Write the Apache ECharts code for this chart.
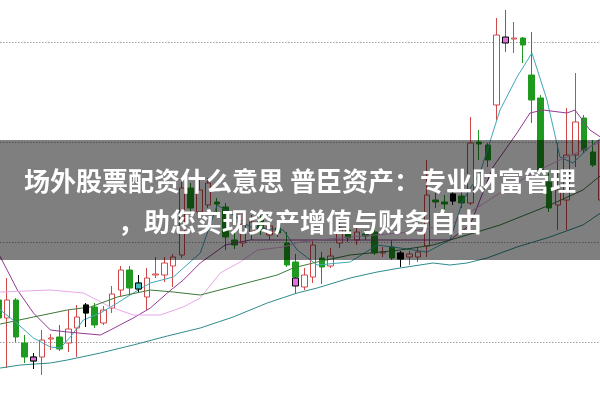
<!DOCTYPE html>
<html><head><meta charset="utf-8">
<script src="https://cdn.jsdelivr.net/npm/echarts@6/dist/echarts.min.js"></script>
<style>html,body{margin:0;padding:0;background:#fff;overflow:hidden;width:600px;height:400px;position:relative}#c{position:absolute;left:-6px;top:-58px;width:612px;height:500px}</style>
</head><body><div id="c"></div>
<script>
const categories = ['1','2','3','4','5','6','7','8','9','10','11','12','13','14','15','16','17','18','19','20','21','22','23','24','25','26','27','28','29','30','31','32','33','34','35','36','37','38','39','40','41','42','43','44','45','46','47','48','49','50','51','52','53','54','55','56','57','58','59','60','61','62','63','64','65','66','67','68','69','70'];

// [open, close, low, high]
const candles = [
[10.42,10.24,10.20,10.47],[10.24,10.42,9.74,10.64],[10.42,10.05,10.00,10.44],[9.99,9.85,9.79,10.07],
[9.85,9.81,9.73,9.89],[9.85,10.02,9.67,10.12],[10.03,10.04,9.92,10.08],[10.05,9.93,9.91,10.17],
[9.99,10.13,9.90,10.32],[10.14,10.25,9.85,10.37],[10.37,10.29,10.15,10.39],[10.35,10.17,10.14,10.39],
[10.19,10.32,10.17,10.36],[10.34,10.48,10.29,10.56],[10.52,10.72,10.46,10.76],[10.72,10.54,10.47,10.76],
[10.59,10.53,10.50,10.67],[10.45,10.64,10.32,10.74],[10.67,10.68,10.64,10.85],[10.67,10.79,10.60,10.85],
[10.76,10.85,10.55,10.88],[10.87,11.54,10.84,11.60],[11.54,11.34,11.29,11.59],[11.30,11.52,11.27,11.62],
[11.37,11.59,11.34,11.64],[11.40,11.38,11.30,11.44],[11.35,11.05,10.92,11.39],[11.02,10.97,10.93,11.09],
[10.99,11.18,10.95,11.29],[11.10,11.20,11.02,11.27],[11.22,11.12,11.07,11.28],[11.07,11.16,11.02,11.22],
[11.14,11.09,11.05,11.19],[10.99,10.77,10.75,11.10],[10.80,10.65,10.49,10.88],[10.55,10.67,10.52,10.74],
[10.65,10.97,10.59,11.02],[10.84,10.75,10.58,10.90],[10.76,10.86,10.74,10.94],[10.99,11.14,10.94,11.20],
[11.12,11.04,11.00,11.17],[11.02,11.10,10.97,11.14],[11.08,11.06,11.02,11.12],[11.10,10.89,10.87,11.14],
[10.89,10.90,10.85,10.95],[10.95,10.84,10.82,11.02],[10.89,10.83,10.75,10.91],[10.85,10.88,10.77,10.91],
[10.85,10.90,10.80,10.95],[10.96,11.47,10.85,11.82],[11.42,11.40,11.34,11.49],[11.40,11.38,11.32,11.47],
[11.48,11.41,11.37,11.52],[11.46,11.39,11.34,11.52],[11.39,11.99,11.37,12.25],[12.00,11.98,11.82,12.12],
[11.97,11.82,11.75,11.99],[12.37,13.07,12.22,13.24],[13.02,13.01,12.90,13.32],[13.03,13.04,12.89,13.20],
[13.04,12.97,12.79,13.05],[12.67,12.42,12.19,13.10],[12.44,11.72,11.69,12.47],[11.60,11.34,11.30,11.72],
[11.37,11.52,11.12,11.99],[11.42,11.87,11.12,12.34],[11.87,12.20,11.75,12.69],[12.24,11.92,11.89,12.27],
[11.90,11.77,11.75,12.02],[11.42,12.02,11.39,12.60]
];

const markerIdx = [4,10,16,34,46,52,58];
const markerVals = [[9.85,9.81,9.73,9.89],[10.37,10.29,10.15,10.39],[10.59,10.53,10.50,10.67],[10.64,10.56,10.56,10.64],[10.89,10.83,10.75,10.91],[11.48,11.41,11.37,11.52],[13.05,12.99,12.99,13.05]];
const markerFill = ['#e070e0','#000000','#40c0c0','#e070e0','#000000','#000000','#e070e0'];

// moving averages: [index, price]
const ma5 = [[-0.34,10.42],[0.23,10.32],[1.95,10.20],[4.01,10.04],[5.95,9.95],[7.09,9.94],[8.23,10.05],[9.72,10.22],[11.66,10.29],[13.61,10.39],[15.43,10.49],[17.38,10.59],[20.01,10.65],[23.09,10.89],[25.03,11.37],[26.86,11.27],[28.81,11.15],[32.58,11.12],[34.18,10.92],[36.46,10.77],[40.23,10.80],[43.32,10.97],[45.95,10.94],[49.03,10.90],[51.66,11.02],[53.15,11.42],[55.09,11.69],[57.38,12.32],[59.32,12.65],[61.03,12.89],[62.75,12.42],[64.23,11.85],[65.72,11.79],[67.66,11.95],[69.38,12.07]];
const ma10 = [[-0.34,10.92],[0.23,10.85],[2.18,10.52],[4.01,10.29],[5.95,10.12],[7.89,10.10],[11.66,10.07],[12.81,10.12],[15.43,10.24],[17.38,10.34],[19.32,10.49],[21.15,10.62],[23.09,10.79],[25.95,10.97],[28.81,11.02],[34.52,11.02],[40.23,11.02],[45.95,11.02],[51.66,11.02],[53.95,11.17],[56.58,11.75],[59.32,12.09],[60.81,12.29],[62.29,12.32],[65.03,12.29],[65.95,12.32],[67.66,12.12],[69.38,12.02]];
const ma20 = [[-0.34,10.49],[0.23,10.50],[5.95,10.52],[9.72,10.49],[12.81,10.35],[15.43,10.27],[18.52,10.27],[21.15,10.35],[23.09,10.44],[25.38,10.69],[27.66,10.80],[29.61,10.92],[32.58,10.95],[34.52,11.00],[40.23,11.05],[45.95,11.09],[51.66,11.17],[57.38,11.49],[61.15,11.69],[64.23,11.82],[66.86,11.92],[69.38,12.02]];
const ma60 = [[-0.34,10.17],[0.23,10.18],[4.01,10.25],[7.89,10.32],[10.52,10.35],[13.61,10.45],[17.38,10.52],[20.01,10.50],[23.09,10.47],[26.18,10.54],[28.81,10.60],[31.89,10.67],[33.72,10.74],[36.46,10.80],[40.23,10.87],[45.95,10.92],[49.72,10.97],[53.61,11.07],[57.38,11.17],[63.09,11.37],[66.86,11.52],[69.38,11.70]];
const ma120 = [[-0.34,9.73],[0.23,9.74],[2.52,9.77],[5.95,9.79],[7.89,9.82],[11.66,9.89],[15.43,9.97],[19.32,10.06],[23.09,10.14],[26.86,10.25],[30.75,10.39],[34.18,10.49],[36.46,10.54],[40.23,10.64],[43.32,10.70],[45.95,10.74],[49.72,10.79],[51.66,10.77],[53.61,10.79],[55.89,10.84],[59.32,10.95],[63.09,11.05],[66.86,11.17],[69.38,11.32]];

const title1 = '场外股票配资什么意思 普臣资产：专业财富管理';
const title2 = '，助您实现资产增值与财务自由';

const markerData = categories.map(function(){ return '-'; });
markerIdx.forEach(function(k, i){
  markerData[k] = {value: markerVals[i], itemStyle: {color: markerFill[i], color0: markerFill[i], borderColor: '#000', borderColor0: '#000'}};
});

function lineSeries(name, data, color){
  return {name: name, type: 'line', xAxisIndex: 1, data: data, symbol: 'none', smooth: false, z: 4,
    lineStyle: {color: color, width: 1}, silent: true};
}

const chart = echarts.init(document.getElementById('c'), null, {renderer: 'canvas'});
chart.setOption({
  animation: false,
  backgroundColor: '#fff',
  grid: {left: 0, right: 0, top: 0, bottom: 0},
  xAxis: [
    {type: 'category', data: categories, boundaryGap: true, axisLine: {show: false}, axisTick: {show: false}, axisLabel: {show: false}, splitLine: {show: false}},
    {type: 'value', min: -0.5, max: 69.5, show: false}
  ],
  yAxis: {type: 'value', min: 9, max: 14, interval: 1, axisLine: {show: false}, axisTick: {show: false}, axisLabel: {show: false},
    splitLine: {show: true, lineStyle: {color: '#a0a0a0', width: 1, type: [1.5, 1.5]}}},
  series: [
    {type: 'candlestick', data: candles, barWidth: 6, z: 2,
      itemStyle: {color: '#ffffff', color0: '#1e9a1e', borderColor: '#d04848', borderColor0: '#1e9a1e', borderWidth: 1}},
    lineSeries('MA5', ma5, '#3fa8b8'),
    lineSeries('MA10', ma10, '#933a93'),
    lineSeries('MA20', ma20, '#e8a8e8'),
    lineSeries('MA60', ma60, '#3a7a3a'),
    lineSeries('MA120', ma120, '#2f8c8c'),
    {type: 'candlestick', data: markerData, barWidth: 6, z: 5,
      itemStyle: {color: '#e070e0', color0: '#e070e0', borderColor: '#000', borderColor0: '#000', borderWidth: 1}}
  ],
  graphic: [
    {type: 'rect', left: 0, top: 198, z: 100, shape: {width: 612, height: 120}, style: {fill: 'rgba(0,0,0,0.5)'}},
    {type: 'text', x: 306, y: 239, z: 101, style: {text: title1, fill: '#fff', font: 'bold 26px "Noto Sans CJK SC"', textAlign: 'center', textVerticalAlign: 'middle'}},
    {type: 'text', x: 306, y: 280, z: 101, style: {text: title2, fill: '#fff', font: 'bold 26px "Noto Sans CJK SC"', textAlign: 'center', textVerticalAlign: 'middle'}}
  ]
});
</script>
</body></html>
